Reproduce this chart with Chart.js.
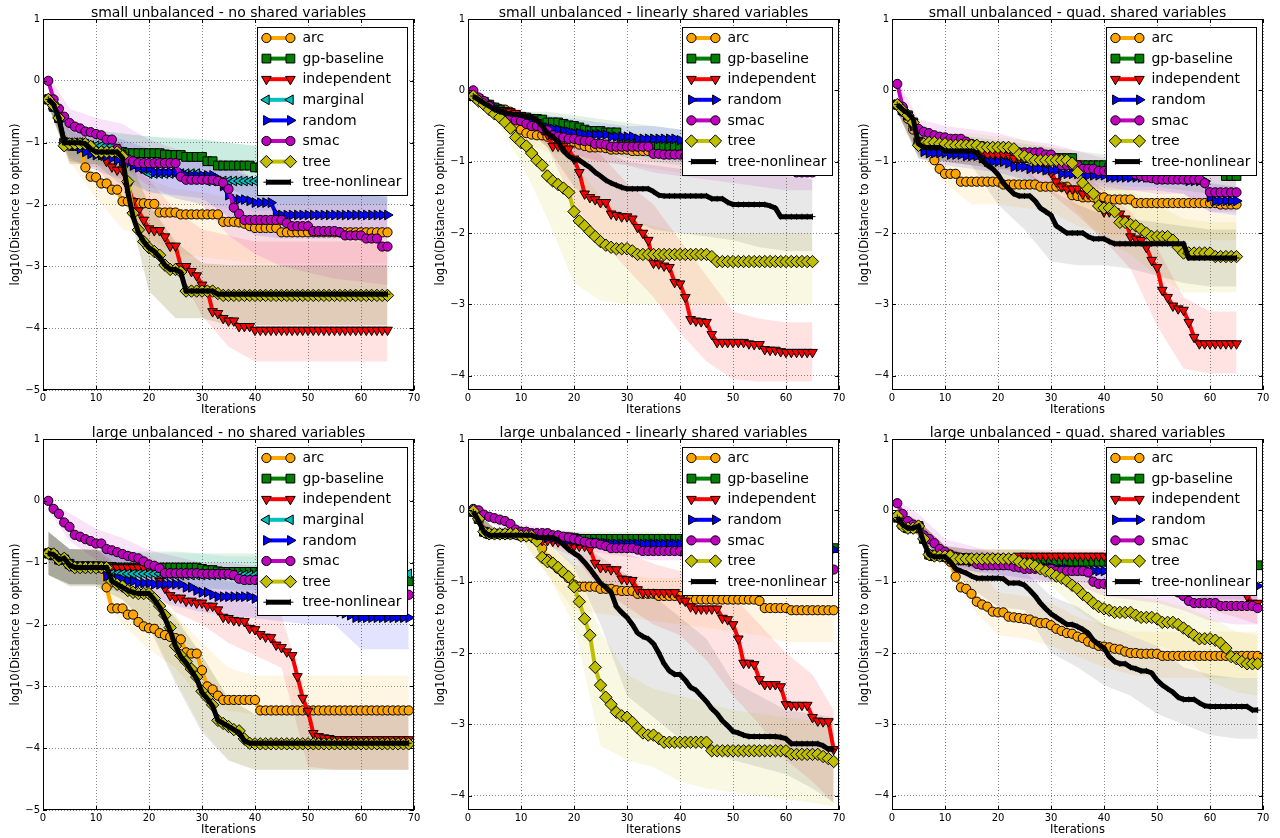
<!DOCTYPE html>
<html><head><meta charset="utf-8">
<script src="https://cdn.jsdelivr.net/npm/chart.js@4/dist/chart.umd.min.js"></script>
<style>
html,body{margin:0;padding:0;background:#fff;width:1280px;height:838px;overflow:hidden}
canvas{position:absolute}
</style></head><body>
<canvas id="c1" width="426" height="419" style="left:0px;top:0px"></canvas>
<canvas id="c2" width="426" height="419" style="left:425px;top:0px"></canvas>
<canvas id="c3" width="426" height="419" style="left:849px;top:0px"></canvas>
<canvas id="c4" width="426" height="419" style="left:0px;top:420px"></canvas>
<canvas id="c5" width="426" height="419" style="left:425px;top:420px"></canvas>
<canvas id="c6" width="426" height="419" style="left:849px;top:420px"></canvas>
<script>
// ---------- tick labels / categories ----------
const xTickVals = [0,10,20,30,40,50,60,70];
const yTicksA = [-5,-4,-3,-2,-1,0,1];
const yTicksB = [-4,-3,-2,-1,0,1];
const itersTop = Array.from({length:65},(_,i)=>i+1);
const itersBot = Array.from({length:69},(_,i)=>i+1);
const knotsTop = [1,5,10,15,20,25,30,35,40,45,50,55,60,65];
const knotsBot = [1,5,10,15,20,25,30,35,40,45,50,55,60,65,69];

// ---------- panel 1: small unbalanced - no shared variables ----------
const p1_arc = [
-0.30,-0.40,-0.60,-1.05,-1.05,-1.05,-1.05,-1.40,-1.55,-1.56,
-1.66,-1.66,-1.76,-1.76,-1.95,-1.95,-1.96,-1.98,-1.98,-1.99,
-1.99,-2.13,-2.13,-2.13,-2.13,-2.16,-2.16,-2.16,-2.16,-2.16,
-2.16,-2.16,-2.16,-2.28,-2.28,-2.28,-2.29,-2.31,-2.35,-2.38,
-2.38,-2.38,-2.38,-2.38,-2.45,-2.45,-2.45,-2.45,-2.45,-2.45,
-2.45,-2.45,-2.45,-2.45,-2.45,-2.45,-2.45,-2.45,-2.45,-2.45,
-2.45,-2.45,-2.45,-2.45,-2.45];
const p1_gp = [
-0.30,-0.42,-0.60,-1.00,-1.02,-1.05,-1.05,-1.08,-1.10,-1.10,
-1.12,-1.12,-1.13,-1.15,-1.15,-1.17,-1.17,-1.17,-1.17,-1.17,
-1.17,-1.17,-1.19,-1.20,-1.20,-1.20,-1.23,-1.23,-1.23,-1.23,
-1.30,-1.30,-1.37,-1.37,-1.37,-1.37,-1.37,-1.37,-1.37,-1.40,
-1.40,-1.40,-1.40,-1.40,-1.40,-1.40,-1.40,-1.40,-1.40,-1.40,
-1.42,-1.42,-1.42,-1.42,-1.42,-1.42,-1.42,-1.42,-1.42,-1.42,
-1.42,-1.42,-1.42,-1.42,-1.42];
const p1_ind = [
-0.30,-0.40,-0.60,-1.00,-1.00,-1.02,-1.05,-1.10,-1.15,-1.15,
-1.20,-1.30,-1.39,-1.44,-1.44,-1.70,-1.95,-2.10,-2.25,-2.39,
-2.42,-2.42,-2.52,-2.67,-2.67,-3.00,-3.00,-3.08,-3.15,-3.30,
-3.38,-3.73,-3.76,-3.84,-3.88,-3.88,-3.97,-3.97,-3.97,-4.03,
-4.03,-4.03,-4.03,-4.03,-4.03,-4.03,-4.03,-4.03,-4.03,-4.03,
-4.03,-4.03,-4.03,-4.03,-4.03,-4.03,-4.03,-4.03,-4.03,-4.03,
-4.03,-4.03,-4.03,-4.03,-4.03];
const p1_mar = [
-0.30,-0.45,-0.60,-1.00,-1.00,-1.00,-1.00,-1.02,-1.05,-1.05,
-1.05,-1.05,-1.05,-1.10,-1.20,-1.30,-1.35,-1.40,-1.45,-1.50,
-1.50,-1.50,-1.50,-1.50,-1.50,-1.50,-1.50,-1.50,-1.50,-1.55,
-1.62,-1.62,-1.62,-1.62,-1.62,-1.62,-1.62,-1.62,-1.62,-1.62,
-1.62,-1.62,-1.62,-1.62,-1.62,-1.62,-1.62,-1.62,-1.62,-1.62,
-1.65,-1.65,-1.65,-1.65,-1.65,-1.65,-1.65,-1.65,-1.65,-1.65,
-1.65,-1.65,-1.65,-1.65,-1.65];
const p1_ran = [
-0.30,-0.42,-0.60,-0.95,-1.00,-1.05,-1.10,-1.15,-1.18,-1.20,
-1.20,-1.22,-1.25,-1.28,-1.30,-1.33,-1.37,-1.40,-1.42,-1.42,
-1.48,-1.48,-1.48,-1.48,-1.48,-1.48,-1.53,-1.53,-1.53,-1.53,
-1.53,-1.53,-1.58,-1.70,-1.85,-1.92,-1.92,-1.92,-1.94,-1.97,
-1.97,-1.97,-1.97,-2.15,-2.17,-2.17,-2.17,-2.17,-2.17,-2.17,
-2.17,-2.17,-2.17,-2.17,-2.17,-2.17,-2.17,-2.17,-2.17,-2.17,
-2.17,-2.17,-2.17,-2.17,-2.17];
const p1_smac = [
0.00,-0.30,-0.45,-0.58,-0.68,-0.74,-0.77,-0.82,-0.83,-0.86,
-0.88,-0.95,-0.95,-1.10,-1.20,-1.27,-1.30,-1.33,-1.33,-1.33,
-1.33,-1.33,-1.33,-1.33,-1.33,-1.55,-1.60,-1.60,-1.60,-1.60,
-1.60,-1.60,-1.62,-1.65,-1.75,-2.05,-2.15,-2.25,-2.25,-2.25,
-2.25,-2.25,-2.25,-2.25,-2.25,-2.30,-2.35,-2.35,-2.35,-2.35,
-2.43,-2.43,-2.43,-2.43,-2.43,-2.45,-2.50,-2.50,-2.50,-2.50,
-2.55,-2.55,-2.55,-2.68,-2.68];
const p1_tree = [
-0.30,-0.40,-0.60,-1.05,-1.02,-1.02,-1.02,-1.02,-1.06,-1.15,
-1.15,-1.15,-1.15,-1.15,-1.22,-1.63,-2.14,-2.41,-2.60,-2.70,
-2.76,-2.82,-2.98,-3.05,-3.05,-3.09,-3.40,-3.40,-3.40,-3.40,
-3.40,-3.40,-3.44,-3.47,-3.47,-3.47,-3.47,-3.47,-3.47,-3.47,
-3.47,-3.47,-3.47,-3.47,-3.47,-3.47,-3.47,-3.47,-3.47,-3.47,
-3.47,-3.47,-3.47,-3.47,-3.47,-3.47,-3.47,-3.47,-3.47,-3.47,
-3.47,-3.47,-3.47,-3.47,-3.47];
const p1_tnl = [
-0.30,-0.38,-0.60,-1.00,-1.00,-1.00,-1.00,-1.02,-1.10,-1.15,
-1.15,-1.15,-1.15,-1.15,-1.25,-1.80,-2.20,-2.45,-2.60,-2.70,
-2.76,-2.85,-2.98,-3.05,-3.05,-3.10,-3.40,-3.40,-3.40,-3.40,
-3.40,-3.40,-3.45,-3.45,-3.45,-3.45,-3.45,-3.45,-3.45,-3.45,
-3.45,-3.45,-3.45,-3.45,-3.45,-3.45,-3.45,-3.45,-3.45,-3.45,
-3.45,-3.45,-3.45,-3.45,-3.45,-3.45,-3.45,-3.45,-3.45,-3.45,
-3.45,-3.45,-3.45,-3.45,-3.45];
// bands (lower / upper) at knotsTop
const p1_arc_lo = [-0.4,-1.3,-1.9,-2.4,-2.55,-2.8,-2.85,-2.9,-2.95,-2.95,-2.95,-2.95,-2.95,-2.95];
const p1_arc_hi = [-0.2,-0.8,-1.0,-1.3,-1.6,-1.75,-1.8,-1.9,-2.0,-2.0,-2.0,-2.0,-2.0,-2.0];
const p1_gp_lo = [-0.4,-1.3,-1.35,-1.45,-1.5,-1.55,-1.6,-1.75,-1.9,-2.0,-2.0,-2.0,-2.0,-2.0];
const p1_gp_hi = [-0.2,-0.75,-0.8,-0.85,-0.9,-0.92,-0.95,-1.0,-1.05,-1.05,-1.05,-1.05,-1.05,-1.05];
const p1_ind_lo = [-0.4,-1.3,-1.4,-1.9,-2.7,-3.0,-3.8,-4.3,-4.54,-4.54,-4.54,-4.54,-4.54,-4.54];
const p1_ind_hi = [-0.2,-0.8,-1.0,-1.2,-1.6,-2.1,-2.4,-2.5,-2.6,-2.6,-2.6,-2.6,-2.6,-2.6];
const p1_mar_lo = [-0.4,-1.2,-1.3,-1.5,-1.8,-1.9,-2.0,-2.05,-2.1,-2.1,-2.1,-2.1,-2.1,-2.1];
const p1_mar_hi = [-0.2,-0.75,-0.8,-0.85,-0.9,-0.95,-0.95,-1.0,-1.05,-1.1,-1.1,-1.1,-1.1,-1.1];
const p1_ran_lo = [-0.4,-1.25,-1.45,-1.6,-1.8,-1.85,-1.9,-2.2,-2.5,-2.55,-2.55,-2.55,-2.55,-2.55];
const p1_ran_hi = [-0.2,-0.75,-0.85,-0.95,-1.1,-1.2,-1.25,-1.4,-1.6,-1.7,-1.7,-1.7,-1.7,-1.7];
const p1_smac_lo = [-0.1,-0.9,-1.05,-1.4,-1.7,-1.9,-2.0,-2.5,-2.8,-3.0,-3.1,-3.2,-3.25,-3.3];
const p1_smac_hi = [0.1,-0.45,-0.6,-0.7,-0.95,-1.1,-1.2,-1.3,-1.6,-1.7,-1.7,-1.8,-1.8,-1.9];
const p1_tree_lo = [-0.4,-1.35,-1.35,-1.6,-3.4,-3.84,-3.84,-3.95,-3.95,-3.95,-3.95,-3.95,-3.95,-3.95];
const p1_tree_hi = [-0.2,-0.95,-0.95,-1.0,-2.0,-2.6,-2.95,-2.98,-2.98,-2.98,-2.98,-2.98,-2.98,-2.98];
const p1_tnl_lo = [-0.4,-1.35,-1.35,-1.7,-3.4,-3.84,-3.84,-3.95,-3.95,-3.95,-3.95,-3.95,-3.95,-3.95];
const p1_tnl_hi = [-0.2,-0.95,-0.95,-1.0,-2.0,-2.6,-2.95,-2.98,-2.98,-2.98,-2.98,-2.98,-2.98,-2.98];

// ---------- panel 2: small unbalanced - linearly shared variables ----------
const p2_arc = [
-0.08,-0.12,-0.16,-0.20,-0.24,-0.26,-0.27,-0.30,-0.50,-0.55,
-0.60,-0.62,-0.63,-0.63,-0.65,-0.67,-0.67,-0.70,-0.72,-0.73,
-0.76,-0.78,-0.80,-0.80,-0.80,-0.81,-0.83,-0.83,-0.83,-0.83,
-0.85,-0.85,-0.85,-0.85,-0.85,-0.85,-0.85,-0.85,-0.85,-0.85,
-0.87,-0.87,-0.87,-0.87,-0.87,-0.87,-0.87,-0.87,-0.87,-0.87,
-0.88,-0.88,-0.88,-0.88,-0.88,-0.88,-0.88,-0.88,-0.88,-0.88,
-0.88,-0.88,-0.88,-0.88,-0.88];
const p2_gp = [
-0.08,-0.12,-0.16,-0.20,-0.24,-0.27,-0.30,-0.32,-0.35,-0.37,
-0.38,-0.40,-0.40,-0.41,-0.45,-0.45,-0.45,-0.47,-0.49,-0.50,
-0.52,-0.55,-0.57,-0.57,-0.57,-0.59,-0.59,-0.59,-0.70,-0.72,
-0.75,-0.75,-0.75,-0.75,-0.75,-0.78,-0.78,-0.78,-0.78,-0.78,
-0.80,-0.80,-0.80,-0.80,-0.80,-0.80,-0.80,-0.80,-0.80,-0.80,
-0.80,-0.80,-0.80,-0.80,-0.80,-0.80,-0.80,-0.80,-0.80,-0.80,
-0.82,-0.82,-0.82,-0.82,-0.82];
const p2_ind = [
-0.08,-0.12,-0.16,-0.20,-0.25,-0.28,-0.30,-0.30,-0.32,-0.35,
-0.38,-0.40,-0.45,-0.55,-0.62,-0.78,-0.78,-0.78,-0.82,-0.96,
-1.15,-1.45,-1.50,-1.53,-1.57,-1.57,-1.73,-1.75,-1.77,-1.77,
-1.80,-1.92,-2.00,-2.10,-2.42,-2.43,-2.46,-2.48,-2.69,-2.71,
-2.90,-3.21,-3.23,-3.24,-3.25,-3.42,-3.53,-3.53,-3.53,-3.53,
-3.53,-3.53,-3.55,-3.56,-3.56,-3.63,-3.64,-3.64,-3.66,-3.67,
-3.67,-3.67,-3.67,-3.67,-3.67];
const p2_ran = [
-0.08,-0.12,-0.16,-0.20,-0.25,-0.30,-0.33,-0.36,-0.38,-0.40,
-0.42,-0.45,-0.48,-0.50,-0.52,-0.54,-0.55,-0.57,-0.58,-0.60,
-0.60,-0.62,-0.62,-0.62,-0.62,-0.62,-0.65,-0.65,-0.65,-0.65,
-0.65,-0.68,-0.68,-0.68,-0.68,-0.68,-0.68,-0.68,-0.68,-0.70,
-0.72,-0.72,-0.72,-0.72,-0.72,-0.72,-0.72,-0.72,-0.72,-0.72,
-0.72,-0.72,-0.72,-0.72,-0.72,-0.72,-0.72,-0.72,-0.72,-0.72,
-0.72,-0.72,-0.72,-0.72,-0.72];
const p2_smac = [
0.00,-0.10,-0.15,-0.22,-0.30,-0.33,-0.36,-0.38,-0.42,-0.43,
-0.47,-0.50,-0.50,-0.53,-0.56,-0.63,-0.65,-0.66,-0.68,-0.68,
-0.70,-0.71,-0.71,-0.75,-0.75,-0.76,-0.79,-0.79,-0.79,-0.79,
-0.79,-0.79,-0.79,-0.79,-0.89,-0.89,-0.90,-0.90,-0.90,-0.90,
-0.92,-0.92,-0.92,-0.95,-0.95,-0.95,-0.98,-0.98,-1.00,-1.00,
-1.02,-1.02,-1.05,-1.05,-1.05,-1.08,-1.08,-1.10,-1.10,-1.12,
-1.12,-1.15,-1.15,-1.15,-1.15];
const p2_tree = [
-0.08,-0.15,-0.20,-0.27,-0.33,-0.38,-0.45,-0.53,-0.66,-0.73,
-0.78,-0.88,-0.98,-1.05,-1.20,-1.27,-1.32,-1.37,-1.43,-1.70,
-1.83,-1.90,-1.98,-2.05,-2.12,-2.17,-2.20,-2.22,-2.22,-2.22,
-2.25,-2.30,-2.30,-2.30,-2.30,-2.30,-2.30,-2.30,-2.30,-2.30,
-2.30,-2.30,-2.30,-2.30,-2.30,-2.33,-2.40,-2.40,-2.40,-2.40,
-2.40,-2.40,-2.40,-2.40,-2.40,-2.40,-2.40,-2.40,-2.40,-2.40,
-2.40,-2.40,-2.40,-2.40,-2.40];
const p2_tnl = [
-0.08,-0.13,-0.18,-0.22,-0.27,-0.30,-0.32,-0.33,-0.34,-0.35,
-0.37,-0.38,-0.42,-0.50,-0.60,-0.65,-0.72,-0.85,-0.92,-0.97,
-0.98,-1.03,-1.08,-1.15,-1.20,-1.26,-1.30,-1.33,-1.36,-1.38,
-1.38,-1.38,-1.38,-1.38,-1.42,-1.47,-1.48,-1.48,-1.48,-1.48,
-1.48,-1.48,-1.48,-1.48,-1.48,-1.52,-1.52,-1.52,-1.57,-1.60,
-1.60,-1.60,-1.60,-1.60,-1.60,-1.60,-1.62,-1.65,-1.77,-1.77,
-1.77,-1.77,-1.77,-1.77,-1.77];
const p2_arc_lo = [-0.12,-0.35,-0.75,-0.85,-0.95,-1.0,-1.05,-1.1,-1.15,-1.15,-1.15,-1.2,-1.2,-1.2];
const p2_arc_hi = [-0.05,-0.2,-0.4,-0.5,-0.55,-0.6,-0.6,-0.6,-0.65,-0.65,-0.65,-0.65,-0.65,-0.65];
const p2_gp_lo = [-0.12,-0.3,-0.5,-0.65,-0.8,-0.85,-0.95,-1.0,-1.05,-1.05,-1.1,-1.1,-1.1,-1.1];
const p2_gp_hi = [-0.05,-0.2,-0.3,-0.3,-0.35,-0.4,-0.45,-0.5,-0.55,-0.55,-0.55,-0.55,-0.6,-0.6];
const p2_ind_lo = [-0.12,-0.35,-0.5,-0.8,-1.6,-2.1,-2.5,-2.9,-3.4,-3.8,-4.05,-4.08,-4.08,-4.08];
const p2_ind_hi = [-0.05,-0.2,-0.3,-0.45,-0.6,-0.9,-1.3,-1.6,-2.1,-2.6,-3.1,-3.2,-3.25,-3.25];
const p2_ran_lo = [-0.12,-0.35,-0.5,-0.7,-0.8,-0.85,-0.9,-0.95,-1.0,-1.0,-1.0,-1.0,-1.0,-1.0];
const p2_ran_hi = [-0.05,-0.2,-0.3,-0.35,-0.4,-0.45,-0.5,-0.5,-0.55,-0.55,-0.55,-0.55,-0.55,-0.55];
const p2_smac_lo = [-0.05,-0.4,-0.55,-0.75,-0.9,-1.0,-1.05,-1.15,-1.2,-1.25,-1.3,-1.35,-1.4,-1.4];
const p2_smac_hi = [0.05,-0.2,-0.3,-0.45,-0.5,-0.55,-0.6,-0.65,-0.7,-0.7,-0.75,-0.8,-0.8,-0.85];
const p2_tree_lo = [-0.12,-0.4,-1.0,-1.8,-2.7,-2.95,-3.0,-3.0,-3.0,-3.0,-3.0,-3.0,-3.0,-3.0];
const p2_tree_hi = [-0.05,-0.25,-0.5,-0.7,-1.0,-1.5,-1.8,-1.9,-2.0,-2.0,-2.0,-2.0,-2.0,-2.0];
const p2_tnl_lo = [-0.12,-0.35,-0.45,-0.8,-1.35,-1.65,-1.8,-1.95,-2.0,-2.05,-2.1,-2.2,-2.25,-2.25];
const p2_tnl_hi = [-0.05,-0.2,-0.3,-0.35,-0.6,-0.8,-1.0,-1.05,-1.1,-1.1,-1.15,-1.2,-1.2,-1.25];

// ---------- panel 3: small unbalanced - quad. shared variables ----------
const p3_arc = [
-0.20,-0.30,-0.40,-0.55,-0.75,-0.80,-0.85,-0.98,-1.10,-1.17,
-1.17,-1.17,-1.28,-1.28,-1.28,-1.28,-1.28,-1.28,-1.28,-1.28,
-1.32,-1.32,-1.32,-1.32,-1.32,-1.32,-1.32,-1.35,-1.35,-1.35,
-1.35,-1.35,-1.35,-1.47,-1.48,-1.50,-1.50,-1.50,-1.50,-1.50,
-1.53,-1.53,-1.53,-1.53,-1.53,-1.58,-1.58,-1.58,-1.58,-1.58,
-1.58,-1.58,-1.58,-1.58,-1.58,-1.58,-1.58,-1.58,-1.58,-1.58,
-1.58,-1.60,-1.60,-1.60,-1.60];
const p3_gp = [
-0.20,-0.28,-0.35,-0.45,-0.72,-0.75,-0.78,-0.80,-0.82,-0.83,
-0.85,-0.85,-0.85,-0.87,-0.88,-0.90,-0.90,-0.90,-0.90,-0.90,
-0.92,-0.95,-0.95,-0.95,-0.95,-0.95,-0.95,-0.95,-0.95,-0.95,
-0.95,-0.95,-0.95,-0.95,-1.05,-1.05,-1.05,-1.05,-1.05,-1.05,
-1.08,-1.08,-1.08,-1.08,-1.08,-1.08,-1.08,-1.08,-1.08,-1.08,
-1.10,-1.10,-1.10,-1.10,-1.10,-1.10,-1.10,-1.10,-1.10,-1.10,
-1.12,-1.12,-1.20,-1.20,-1.20];
const p3_ind = [
-0.20,-0.28,-0.35,-0.45,-0.72,-0.75,-0.78,-0.80,-0.82,-0.83,
-0.85,-0.85,-0.85,-0.87,-0.88,-0.88,-0.90,-0.90,-0.90,-0.90,
-0.90,-0.90,-0.95,-0.95,-0.95,-0.95,-0.95,-0.95,-1.10,-1.15,
-1.28,-1.35,-1.38,-1.38,-1.38,-1.45,-1.45,-1.45,-1.60,-1.70,
-1.70,-1.70,-1.73,-1.80,-2.05,-2.08,-2.10,-2.20,-2.38,-2.48,
-2.80,-2.90,-3.02,-3.06,-3.08,-3.25,-3.46,-3.55,-3.55,-3.55,
-3.55,-3.55,-3.55,-3.55,-3.55];
const p3_ran = [
-0.20,-0.28,-0.35,-0.50,-0.75,-0.86,-0.88,-0.88,-0.88,-0.88,
-0.90,-0.90,-0.90,-0.92,-0.92,-0.92,-0.95,-1.00,-1.00,-1.00,
-1.00,-1.02,-1.07,-1.07,-1.07,-1.10,-1.10,-1.10,-1.12,-1.12,
-1.12,-1.17,-1.17,-1.17,-1.17,-1.19,-1.19,-1.19,-1.19,-1.19,
-1.22,-1.22,-1.22,-1.22,-1.22,-1.22,-1.22,-1.22,-1.22,-1.22,
-1.22,-1.22,-1.22,-1.22,-1.22,-1.27,-1.27,-1.27,-1.27,-1.50,
-1.55,-1.55,-1.55,-1.55,-1.55];
const p3_smac = [
0.09,-0.23,-0.35,-0.45,-0.54,-0.58,-0.60,-0.63,-0.65,-0.66,
-0.68,-0.68,-0.68,-0.72,-0.75,-0.78,-0.78,-0.80,-0.80,-0.80,
-0.80,-0.82,-0.85,-0.87,-0.87,-0.87,-0.87,-0.87,-0.90,-0.90,
-0.95,-1.05,-1.05,-1.05,-1.05,-1.10,-1.10,-1.10,-1.13,-1.13,
-1.13,-1.13,-1.13,-1.13,-1.13,-1.18,-1.20,-1.22,-1.23,-1.25,
-1.25,-1.25,-1.25,-1.25,-1.25,-1.25,-1.25,-1.25,-1.30,-1.43,
-1.43,-1.43,-1.43,-1.43,-1.43];
const p3_tree = [
-0.20,-0.28,-0.35,-0.45,-0.77,-0.75,-0.73,-0.73,-0.75,-0.75,
-0.77,-0.77,-0.77,-0.77,-0.77,-0.77,-0.80,-0.80,-0.80,-0.80,
-0.80,-0.80,-0.82,-0.90,-0.92,-0.95,-0.98,-0.98,-0.98,-0.98,
-0.98,-0.98,-0.98,-1.02,-1.15,-1.30,-1.38,-1.45,-1.62,-1.65,
-1.65,-1.70,-1.85,-1.85,-1.88,-1.90,-1.95,-2.00,-2.05,-2.05,
-2.05,-2.05,-2.10,-2.20,-2.28,-2.28,-2.28,-2.28,-2.28,-2.28,
-2.33,-2.33,-2.33,-2.33,-2.33];
const p3_tnl = [
-0.20,-0.27,-0.32,-0.40,-0.75,-0.80,-0.80,-0.80,-0.80,-0.85,
-0.85,-0.85,-0.85,-0.85,-0.85,-0.88,-0.98,-1.05,-1.10,-1.18,
-1.30,-1.38,-1.45,-1.48,-1.48,-1.48,-1.55,-1.65,-1.70,-1.75,
-1.90,-1.95,-2.00,-2.00,-2.00,-2.00,-2.05,-2.08,-2.08,-2.08,
-2.12,-2.15,-2.15,-2.15,-2.15,-2.15,-2.15,-2.15,-2.15,-2.15,
-2.15,-2.15,-2.15,-2.15,-2.15,-2.35,-2.35,-2.35,-2.35,-2.35,
-2.35,-2.35,-2.35,-2.35,-2.35];
const p3_arc_lo = [-0.3,-0.9,-1.3,-1.6,-1.6,-1.65,-1.7,-1.9,-2.0,-2.05,-2.1,-2.1,-2.1,-2.1];
const p3_arc_hi = [-0.1,-0.6,-0.95,-1.0,-1.05,-1.1,-1.15,-1.2,-1.3,-1.35,-1.35,-1.35,-1.35,-1.35];
const p3_gp_lo = [-0.3,-0.9,-1.0,-1.05,-1.1,-1.1,-1.15,-1.25,-1.3,-1.35,-1.35,-1.4,-1.45,-1.45];
const p3_gp_hi = [-0.1,-0.55,-0.6,-0.65,-0.7,-0.75,-0.8,-0.85,-0.9,-0.9,-0.95,-0.95,-0.95,-1.0];
const p3_ind_lo = [-0.3,-0.9,-1.0,-1.05,-1.1,-1.15,-1.45,-1.75,-2.1,-2.5,-3.3,-3.9,-3.97,-3.97];
const p3_ind_hi = [-0.1,-0.55,-0.65,-0.7,-0.75,-0.8,-0.95,-1.1,-1.4,-1.7,-2.2,-2.9,-3.1,-3.1];
const p3_ran_lo = [-0.3,-0.95,-1.05,-1.1,-1.15,-1.25,-1.3,-1.35,-1.4,-1.4,-1.4,-1.45,-1.7,-1.75];
const p3_ran_hi = [-0.1,-0.6,-0.7,-0.75,-0.85,-0.9,-0.95,-1.0,-1.05,-1.05,-1.05,-1.1,-1.3,-1.35];
const p3_smac_lo = [0.0,-0.7,-0.85,-0.9,-1.0,-1.05,-1.1,-1.3,-1.35,-1.4,-1.45,-1.45,-1.7,-1.7];
const p3_smac_hi = [0.15,-0.4,-0.5,-0.55,-0.6,-0.7,-0.75,-0.85,-0.95,-0.95,-1.0,-1.05,-1.2,-1.2];
const p3_tree_lo = [-0.3,-0.95,-0.95,-1.0,-1.05,-1.1,-1.25,-1.7,-2.1,-2.3,-2.6,-2.83,-2.83,-2.83];
const p3_tree_hi = [-0.1,-0.55,-0.6,-0.6,-0.65,-0.7,-0.8,-0.9,-1.2,-1.4,-1.6,-1.8,-1.85,-1.85];
const p3_tnl_lo = [-0.3,-0.95,-1.0,-1.05,-1.6,-1.95,-2.4,-2.45,-2.45,-2.5,-2.6,-2.7,-2.75,-2.75];
const p3_tnl_hi = [-0.1,-0.6,-0.7,-0.7,-0.9,-1.1,-1.4,-1.6,-1.75,-1.8,-1.85,-1.9,-1.95,-1.95];

// ---------- panel 4: large unbalanced - no shared variables ----------
const p4_arc = [
-0.85,-0.86,-0.95,-0.93,-1.04,-1.08,-1.08,-1.08,-1.08,-1.08,
-1.08,-1.40,-1.74,-1.74,-1.74,-1.84,-1.84,-1.96,-2.03,-2.06,
-2.07,-2.14,-2.17,-2.20,-2.22,-2.24,-2.45,-2.47,-2.47,-2.74,
-3.00,-3.05,-3.15,-3.22,-3.22,-3.22,-3.22,-3.22,-3.22,-3.22,
-3.39,-3.39,-3.39,-3.39,-3.39,-3.39,-3.39,-3.39,-3.39,-3.39,
-3.39,-3.39,-3.39,-3.39,-3.39,-3.39,-3.39,-3.39,-3.39,-3.39,
-3.39,-3.39,-3.39,-3.39,-3.39,-3.39,-3.39,-3.39,-3.39];
const p4_gp = [
-0.85,-0.88,-0.95,-0.95,-1.02,-1.06,-1.06,-1.06,-1.06,-1.06,
-1.06,-1.07,-1.07,-1.08,-1.08,-1.08,-1.08,-1.08,-1.08,-1.08,
-1.08,-1.08,-1.08,-1.08,-1.08,-1.08,-1.08,-1.08,-1.08,-1.10,
-1.12,-1.12,-1.14,-1.15,-1.15,-1.15,-1.15,-1.15,-1.15,-1.15,
-1.17,-1.17,-1.17,-1.17,-1.17,-1.17,-1.17,-1.17,-1.17,-1.17,
-1.20,-1.20,-1.20,-1.20,-1.20,-1.20,-1.20,-1.20,-1.20,-1.20,
-1.22,-1.22,-1.25,-1.25,-1.25,-1.28,-1.30,-1.30,-1.30];
const p4_ind = [
-0.85,-0.88,-0.95,-0.95,-1.02,-1.06,-1.06,-1.06,-1.06,-1.06,
-1.06,-1.07,-1.07,-1.08,-1.08,-1.08,-1.08,-1.08,-1.08,-1.10,
-1.14,-1.30,-1.41,-1.53,-1.57,-1.57,-1.62,-1.62,-1.65,-1.65,
-1.70,-1.70,-1.76,-1.88,-1.90,-1.93,-1.94,-1.95,-2.06,-2.08,
-2.16,-2.20,-2.21,-2.33,-2.37,-2.44,-2.50,-2.84,-3.19,-3.40,
-3.76,-3.81,-3.83,-3.84,-3.86,-3.86,-3.86,-3.86,-3.86,-3.86,
-3.86,-3.86,-3.86,-3.86,-3.86,-3.86,-3.86,-3.86,-3.86];
const p4_mar = [
-0.85,-0.88,-0.95,-0.95,-1.02,-1.06,-1.06,-1.06,-1.06,-1.06,
-1.08,-1.15,-1.18,-1.18,-1.18,-1.18,-1.18,-1.18,-1.18,-1.18,
-1.18,-1.18,-1.20,-1.20,-1.20,-1.20,-1.20,-1.20,-1.20,-1.20,
-1.20,-1.20,-1.20,-1.20,-1.20,-1.20,-1.20,-1.20,-1.20,-1.20,
-1.20,-1.20,-1.20,-1.20,-1.20,-1.20,-1.20,-1.20,-1.20,-1.20,
-1.20,-1.20,-1.20,-1.20,-1.20,-1.20,-1.20,-1.20,-1.20,-1.20,
-1.20,-1.20,-1.20,-1.20,-1.20,-1.20,-1.20,-1.18,-1.18];
const p4_ran = [
-0.85,-0.88,-0.95,-0.95,-1.02,-1.06,-1.06,-1.06,-1.06,-1.06,
-1.08,-1.22,-1.25,-1.25,-1.27,-1.30,-1.30,-1.33,-1.33,-1.33,
-1.35,-1.35,-1.35,-1.35,-1.35,-1.35,-1.40,-1.40,-1.45,-1.48,
-1.48,-1.52,-1.55,-1.55,-1.55,-1.55,-1.55,-1.55,-1.55,-1.58,
-1.62,-1.62,-1.62,-1.65,-1.65,-1.65,-1.68,-1.68,-1.70,-1.70,
-1.72,-1.72,-1.75,-1.75,-1.78,-1.80,-1.82,-1.85,-1.89,-1.89,
-1.89,-1.89,-1.89,-1.89,-1.89,-1.89,-1.89,-1.89,-1.89];
const p4_smac = [
0.00,-0.13,-0.21,-0.35,-0.42,-0.55,-0.58,-0.62,-0.65,-0.69,
-0.69,-0.78,-0.80,-0.83,-0.86,-0.89,-0.91,-0.93,-0.98,-1.03,
-1.05,-1.09,-1.17,-1.17,-1.17,-1.17,-1.17,-1.17,-1.17,-1.18,
-1.18,-1.18,-1.18,-1.18,-1.18,-1.20,-1.26,-1.28,-1.28,-1.28,
-1.30,-1.30,-1.32,-1.32,-1.32,-1.35,-1.35,-1.35,-1.37,-1.37,
-1.38,-1.38,-1.40,-1.40,-1.42,-1.42,-1.44,-1.44,-1.45,-1.45,
-1.46,-1.46,-1.47,-1.48,-1.48,-1.50,-1.50,-1.52,-1.52];
const p4_tree = [
-0.85,-0.86,-0.95,-0.93,-1.04,-1.08,-1.08,-1.08,-1.08,-1.08,
-1.08,-1.08,-1.30,-1.35,-1.38,-1.45,-1.48,-1.50,-1.50,-1.50,
-1.58,-1.70,-1.85,-2.05,-2.35,-2.50,-2.60,-2.72,-2.85,-3.08,
-3.18,-3.30,-3.55,-3.60,-3.65,-3.70,-3.72,-3.85,-3.92,-3.93,
-3.93,-3.93,-3.93,-3.93,-3.93,-3.93,-3.93,-3.93,-3.93,-3.93,
-3.93,-3.93,-3.93,-3.93,-3.93,-3.93,-3.93,-3.93,-3.93,-3.93,
-3.93,-3.93,-3.93,-3.93,-3.93,-3.93,-3.93,-3.93,-3.93];
const p4_tnl = [
-0.85,-0.87,-0.95,-0.93,-1.04,-1.08,-1.08,-1.08,-1.08,-1.08,
-1.08,-1.08,-1.30,-1.35,-1.40,-1.45,-1.48,-1.50,-1.50,-1.50,
-1.60,-1.72,-1.90,-2.10,-2.35,-2.52,-2.62,-2.75,-2.88,-3.10,
-3.20,-3.32,-3.55,-3.60,-3.65,-3.70,-3.75,-3.88,-3.92,-3.92,
-3.92,-3.92,-3.92,-3.92,-3.92,-3.92,-3.92,-3.92,-3.92,-3.92,
-3.92,-3.92,-3.92,-3.92,-3.92,-3.92,-3.92,-3.92,-3.92,-3.92,
-3.92,-3.92,-3.92,-3.92,-3.92,-3.92,-3.92,-3.92,-3.92];
const p4_arc_lo = [-1.2,-1.35,-1.35,-2.0,-2.4,-2.7,-3.2,-3.4,-3.45,-3.45,-3.45,-3.45,-3.45,-3.45,-3.45];
const p4_arc_hi = [-0.5,-0.8,-0.8,-1.2,-1.65,-1.85,-2.3,-2.7,-2.83,-2.83,-2.83,-2.83,-2.83,-2.83,-2.83];
const p4_gp_lo = [-1.2,-1.35,-1.35,-1.35,-1.38,-1.4,-1.4,-1.45,-1.5,-1.5,-1.55,-1.55,-1.6,-1.65,-1.65];
const p4_gp_hi = [-0.5,-0.78,-0.8,-0.82,-0.82,-0.82,-0.85,-0.85,-0.85,-0.85,-0.85,-0.85,-0.85,-0.85,-0.85];
const p4_ind_lo = [-1.2,-1.35,-1.35,-1.35,-1.4,-1.8,-2.0,-2.3,-2.5,-2.7,-4.3,-4.35,-4.35,-4.35,-4.35];
const p4_ind_hi = [-0.5,-0.78,-0.8,-0.82,-0.9,-1.2,-1.4,-1.5,-1.7,-1.85,-3.3,-3.45,-3.45,-3.45,-3.45];
const p4_mar_lo = [-1.2,-1.35,-1.35,-1.35,-1.38,-1.4,-1.42,-1.42,-1.45,-1.45,-1.45,-1.45,-1.45,-1.45,-1.45];
const p4_mar_hi = [-0.5,-0.78,-0.8,-0.82,-0.85,-0.85,-0.85,-0.9,-0.9,-0.9,-0.9,-0.9,-0.9,-0.9,-0.9];
const p4_ran_lo = [-1.2,-1.35,-1.35,-1.5,-1.6,-1.7,-1.8,-1.85,-1.9,-1.95,-2.0,-2.0,-2.4,-2.4,-2.4];
const p4_ran_hi = [-0.5,-0.78,-0.8,-0.9,-1.0,-1.1,-1.2,-1.3,-1.35,-1.4,-1.45,-1.5,-1.55,-1.55,-1.55];
const p4_smac_lo = [-0.15,-0.65,-0.95,-1.1,-1.3,-1.45,-1.5,-1.55,-1.6,-1.7,-1.75,-1.8,-1.85,-1.85,-1.85];
const p4_smac_hi = [0.0,-0.2,-0.45,-0.6,-0.8,-0.9,-1.0,-1.0,-1.05,-1.1,-1.1,-1.15,-1.15,-1.2,-1.2];
const p4_tree_lo = [-1.2,-1.38,-1.38,-1.6,-2.0,-2.9,-3.7,-4.2,-4.35,-4.35,-4.35,-4.35,-4.35,-4.35,-4.35];
const p4_tree_hi = [-0.5,-0.78,-0.78,-1.1,-1.4,-1.85,-2.5,-3.2,-3.45,-3.45,-3.45,-3.45,-3.45,-3.45,-3.45];
const p4_tnl_lo = [-1.2,-1.38,-1.38,-1.6,-2.05,-2.95,-3.75,-4.2,-4.35,-4.35,-4.35,-4.35,-4.35,-4.35,-4.35];
const p4_tnl_hi = [-0.5,-0.78,-0.78,-1.1,-1.4,-1.9,-2.5,-3.2,-3.45,-3.45,-3.45,-3.45,-3.45,-3.45,-3.45];

// ---------- panel 5: large unbalanced - linearly shared variables ----------
const p5_arc = [
-0.02,-0.12,-0.30,-0.33,-0.33,-0.33,-0.33,-0.33,-0.33,-0.36,
-0.36,-0.36,-0.40,-0.53,-0.68,-0.75,-0.82,-0.88,-0.95,-1.04,
-1.07,-1.07,-1.07,-1.07,-1.10,-1.10,-1.10,-1.12,-1.13,-1.13,
-1.13,-1.17,-1.17,-1.17,-1.17,-1.20,-1.20,-1.20,-1.20,-1.20,
-1.25,-1.25,-1.25,-1.25,-1.25,-1.25,-1.25,-1.25,-1.25,-1.25,
-1.25,-1.25,-1.25,-1.25,-1.27,-1.37,-1.37,-1.37,-1.37,-1.37,
-1.40,-1.40,-1.40,-1.40,-1.40,-1.40,-1.40,-1.40,-1.40];
const p5_gp = [
-0.02,-0.12,-0.30,-0.33,-0.33,-0.33,-0.33,-0.33,-0.33,-0.35,
-0.35,-0.35,-0.35,-0.36,-0.36,-0.37,-0.37,-0.38,-0.38,-0.39,
-0.40,-0.40,-0.40,-0.40,-0.40,-0.40,-0.40,-0.40,-0.40,-0.40,
-0.40,-0.40,-0.40,-0.40,-0.40,-0.40,-0.40,-0.40,-0.40,-0.40,
-0.42,-0.42,-0.42,-0.42,-0.42,-0.42,-0.42,-0.42,-0.42,-0.42,
-0.45,-0.45,-0.45,-0.45,-0.45,-0.45,-0.45,-0.45,-0.45,-0.45,
-0.48,-0.48,-0.50,-0.50,-0.50,-0.52,-0.53,-0.53,-0.53];
const p5_ind = [
-0.02,-0.12,-0.30,-0.33,-0.33,-0.33,-0.33,-0.33,-0.33,-0.35,
-0.36,-0.38,-0.40,-0.42,-0.42,-0.43,-0.44,-0.44,-0.50,-0.50,
-0.50,-0.50,-0.54,-0.74,-0.80,-0.80,-0.83,-0.83,-0.96,-0.97,
-0.98,-1.11,-1.15,-1.15,-1.15,-1.15,-1.15,-1.15,-1.15,-1.24,
-1.27,-1.35,-1.38,-1.38,-1.38,-1.38,-1.38,-1.51,-1.53,-1.60,
-1.80,-2.14,-2.14,-2.16,-2.37,-2.44,-2.44,-2.44,-2.47,-2.72,
-2.73,-2.73,-2.73,-2.73,-2.90,-2.95,-2.96,-2.96,-3.35];
const p5_ran = [
-0.02,-0.12,-0.30,-0.33,-0.33,-0.33,-0.33,-0.33,-0.33,-0.35,
-0.35,-0.35,-0.36,-0.37,-0.38,-0.39,-0.40,-0.41,-0.42,-0.43,
-0.44,-0.45,-0.45,-0.45,-0.46,-0.46,-0.47,-0.47,-0.47,-0.47,
-0.47,-0.47,-0.47,-0.47,-0.47,-0.47,-0.47,-0.47,-0.47,-0.47,
-0.48,-0.48,-0.48,-0.48,-0.48,-0.48,-0.48,-0.48,-0.48,-0.48,
-0.50,-0.50,-0.50,-0.50,-0.50,-0.50,-0.50,-0.50,-0.50,-0.50,
-0.52,-0.52,-0.53,-0.53,-0.54,-0.54,-0.55,-0.55,-0.55];
const p5_smac = [
0.02,0.00,-0.06,-0.09,-0.11,-0.13,-0.15,-0.19,-0.27,-0.30,
-0.30,-0.32,-0.32,-0.32,-0.32,-0.35,-0.35,-0.37,-0.38,-0.40,
-0.42,-0.44,-0.46,-0.46,-0.48,-0.50,-0.53,-0.53,-0.53,-0.53,
-0.53,-0.55,-0.57,-0.57,-0.57,-0.57,-0.57,-0.57,-0.57,-0.57,
-0.60,-0.60,-0.62,-0.62,-0.64,-0.64,-0.66,-0.66,-0.68,-0.68,
-0.70,-0.70,-0.72,-0.72,-0.74,-0.74,-0.76,-0.76,-0.78,-0.78,
-0.79,-0.79,-0.80,-0.80,-0.81,-0.81,-0.82,-0.83,-0.83];
const p5_tree = [
-0.01,-0.12,-0.30,-0.33,-0.33,-0.33,-0.33,-0.33,-0.33,-0.36,
-0.36,-0.36,-0.43,-0.66,-0.72,-0.74,-0.80,-0.87,-0.93,-1.07,
-1.28,-1.52,-1.75,-2.20,-2.45,-2.62,-2.72,-2.83,-2.88,-2.90,
-2.97,-3.05,-3.12,-3.15,-3.15,-3.20,-3.25,-3.25,-3.25,-3.25,
-3.25,-3.25,-3.25,-3.25,-3.25,-3.37,-3.37,-3.37,-3.37,-3.37,
-3.37,-3.37,-3.37,-3.37,-3.37,-3.37,-3.37,-3.37,-3.37,-3.37,
-3.42,-3.42,-3.42,-3.42,-3.42,-3.42,-3.45,-3.48,-3.52];
const p5_tnl = [
-0.02,-0.15,-0.30,-0.35,-0.35,-0.35,-0.35,-0.35,-0.35,-0.35,
-0.35,-0.35,-0.38,-0.38,-0.38,-0.38,-0.42,-0.48,-0.55,-0.60,
-0.65,-0.73,-0.82,-0.92,-1.02,-1.08,-1.15,-1.35,-1.43,-1.50,
-1.60,-1.72,-1.77,-1.80,-1.87,-2.00,-2.15,-2.25,-2.30,-2.30,
-2.38,-2.48,-2.52,-2.60,-2.68,-2.78,-2.85,-2.95,-3.02,-3.10,
-3.12,-3.15,-3.17,-3.17,-3.17,-3.17,-3.17,-3.17,-3.18,-3.20,
-3.27,-3.27,-3.27,-3.27,-3.27,-3.27,-3.30,-3.35,-3.35];
const p5_arc_lo = [-0.05,-0.4,-0.4,-0.9,-1.4,-1.45,-1.5,-1.55,-1.6,-1.65,-1.7,-1.75,-1.85,-1.85,-1.85];
const p5_arc_hi = [0.0,-0.25,-0.3,-0.45,-0.75,-0.85,-0.9,-0.95,-0.95,-1.0,-1.0,-1.0,-1.0,-1.0,-1.0];
const p5_gp_lo = [-0.05,-0.4,-0.4,-0.45,-0.5,-0.5,-0.52,-0.55,-0.55,-0.58,-0.6,-0.62,-0.65,-0.68,-0.7];
const p5_gp_hi = [0.0,-0.25,-0.25,-0.28,-0.3,-0.3,-0.3,-0.3,-0.32,-0.32,-0.35,-0.35,-0.38,-0.4,-0.4];
const p5_ind_lo = [-0.05,-0.4,-0.4,-0.5,-0.65,-1.1,-1.35,-1.6,-1.75,-2.1,-2.6,-3.0,-3.5,-3.8,-4.1];
const p5_ind_hi = [0.0,-0.25,-0.28,-0.3,-0.35,-0.45,-0.6,-0.75,-0.85,-0.95,-1.2,-1.6,-2.0,-2.3,-2.8];
const p5_ran_lo = [-0.05,-0.4,-0.42,-0.45,-0.5,-0.55,-0.58,-0.6,-0.62,-0.62,-0.65,-0.65,-0.68,-0.7,-0.7];
const p5_ran_hi = [0.0,-0.25,-0.25,-0.3,-0.32,-0.35,-0.38,-0.38,-0.4,-0.4,-0.42,-0.42,-0.45,-0.45,-0.45];
const p5_smac_lo = [-0.02,-0.2,-0.4,-0.45,-0.5,-0.6,-0.65,-0.7,-0.7,-0.75,-0.8,-0.9,-1.0,-1.05,-1.1];
const p5_smac_hi = [0.05,-0.05,-0.2,-0.25,-0.3,-0.35,-0.4,-0.42,-0.45,-0.48,-0.5,-0.55,-0.58,-0.6,-0.6];
const p5_tree_lo = [-0.05,-0.4,-0.4,-0.9,-1.6,-3.3,-3.5,-3.6,-3.8,-3.9,-3.95,-4.0,-4.05,-4.1,-4.15];
const p5_tree_hi = [0.0,-0.25,-0.3,-0.5,-0.8,-1.7,-2.3,-2.5,-2.6,-2.7,-2.8,-2.85,-2.9,-2.95,-3.0];
const p5_tnl_lo = [-0.05,-0.4,-0.42,-0.45,-0.8,-1.6,-2.6,-2.9,-3.2,-3.35,-3.5,-3.6,-3.7,-3.9,-4.1];
const p5_tnl_hi = [0.0,-0.25,-0.3,-0.32,-0.4,-0.65,-0.9,-1.2,-1.5,-1.8,-2.4,-2.6,-2.8,-2.85,-2.9];

// ---------- panel 6: large unbalanced - quad. shared variables ----------
const p6_arc = [
-0.10,-0.20,-0.25,-0.25,-0.22,-0.40,-0.62,-0.64,-0.64,-0.65,
-0.72,-0.93,-1.08,-1.10,-1.17,-1.28,-1.32,-1.35,-1.42,-1.43,
-1.43,-1.49,-1.50,-1.51,-1.52,-1.53,-1.56,-1.58,-1.58,-1.61,
-1.66,-1.69,-1.72,-1.73,-1.77,-1.79,-1.84,-1.87,-1.90,-1.91,
-1.92,-1.94,-1.95,-1.98,-2.00,-2.00,-2.01,-2.01,-2.01,-2.01,
-2.04,-2.04,-2.04,-2.04,-2.04,-2.04,-2.04,-2.04,-2.04,-2.04,
-2.04,-2.04,-2.04,-2.04,-2.04,-2.04,-2.04,-2.04,-2.04];
const p6_gp = [
-0.10,-0.20,-0.25,-0.25,-0.22,-0.40,-0.62,-0.64,-0.64,-0.65,
-0.66,-0.66,-0.67,-0.67,-0.68,-0.68,-0.68,-0.68,-0.68,-0.68,
-0.70,-0.70,-0.70,-0.70,-0.70,-0.72,-0.72,-0.72,-0.72,-0.72,
-0.72,-0.72,-0.72,-0.72,-0.72,-0.72,-0.72,-0.72,-0.72,-0.72,
-0.72,-0.72,-0.72,-0.72,-0.72,-0.74,-0.74,-0.74,-0.74,-0.74,
-0.74,-0.74,-0.74,-0.74,-0.74,-0.75,-0.75,-0.75,-0.75,-0.75,
-0.75,-0.75,-0.76,-0.76,-0.76,-0.77,-0.77,-0.77,-0.77];
const p6_ind = [
-0.10,-0.20,-0.25,-0.25,-0.22,-0.40,-0.62,-0.64,-0.64,-0.65,
-0.66,-0.66,-0.66,-0.66,-0.66,-0.66,-0.66,-0.66,-0.66,-0.66,
-0.66,-0.66,-0.66,-0.64,-0.64,-0.64,-0.64,-0.64,-0.64,-0.64,
-0.64,-0.64,-0.64,-0.64,-0.64,-0.64,-0.64,-0.64,-0.64,-0.64,
-0.66,-0.66,-0.66,-0.66,-0.66,-0.66,-0.66,-0.66,-0.66,-0.66,
-0.68,-0.68,-0.68,-0.68,-0.68,-0.68,-0.68,-0.68,-0.68,-0.68,
-0.70,-0.70,-0.72,-0.75,-0.80,-0.95,-1.20,-1.30,-1.30];
const p6_ran = [
-0.10,-0.20,-0.25,-0.25,-0.22,-0.40,-0.62,-0.64,-0.64,-0.65,
-0.68,-0.70,-0.70,-0.70,-0.72,-0.72,-0.72,-0.74,-0.74,-0.74,
-0.76,-0.76,-0.78,-0.78,-0.78,-0.78,-0.78,-0.80,-0.80,-0.80,
-0.82,-0.82,-0.82,-0.84,-0.84,-0.84,-0.85,-0.85,-0.85,-0.85,
-0.87,-0.87,-0.88,-0.88,-0.90,-0.90,-0.92,-0.92,-0.93,-0.93,
-0.95,-0.95,-0.96,-0.97,-0.98,-0.98,-1.00,-1.00,-1.01,-1.01,
-1.02,-1.02,-1.03,-1.03,-1.04,-1.04,-1.05,-1.06,-1.06];
const p6_smac = [
0.10,-0.05,-0.15,-0.20,-0.25,-0.35,-0.40,-0.46,-0.54,-0.58,
-0.62,-0.65,-0.70,-0.70,-0.70,-0.75,-0.77,-0.77,-0.77,-0.77,
-0.77,-0.77,-0.79,-0.80,-0.82,-0.82,-0.82,-0.82,-0.82,-0.82,
-0.85,-0.85,-0.85,-0.85,-0.85,-0.85,-0.87,-1.00,-1.03,-1.03,
-1.03,-1.03,-1.05,-1.05,-1.05,-1.05,-1.05,-1.05,-1.08,-1.08,
-1.08,-1.08,-1.08,-1.15,-1.20,-1.27,-1.30,-1.30,-1.30,-1.30,
-1.30,-1.34,-1.34,-1.34,-1.34,-1.34,-1.34,-1.34,-1.37];
const p6_tree = [
-0.08,-0.22,-0.25,-0.25,-0.22,-0.40,-0.62,-0.64,-0.64,-0.64,
-0.64,-0.68,-0.68,-0.68,-0.68,-0.68,-0.68,-0.68,-0.68,-0.68,
-0.68,-0.68,-0.68,-0.72,-0.75,-0.75,-0.78,-0.82,-0.85,-0.88,
-0.92,-0.95,-0.99,-1.05,-1.10,-1.18,-1.23,-1.30,-1.35,-1.38,
-1.40,-1.43,-1.43,-1.43,-1.43,-1.47,-1.50,-1.50,-1.50,-1.52,
-1.57,-1.57,-1.57,-1.60,-1.65,-1.70,-1.75,-1.80,-1.80,-1.80,
-1.82,-1.86,-1.93,-2.05,-2.08,-2.12,-2.15,-2.15,-2.15];
const p6_tnl = [
-0.10,-0.20,-0.25,-0.25,-0.22,-0.45,-0.62,-0.65,-0.65,-0.65,
-0.72,-0.82,-0.85,-0.88,-0.92,-0.95,-0.95,-0.95,-0.95,-0.95,
-0.96,-1.02,-1.02,-1.02,-1.05,-1.12,-1.20,-1.30,-1.38,-1.45,
-1.50,-1.55,-1.60,-1.60,-1.63,-1.67,-1.72,-1.82,-1.88,-1.93,
-2.05,-2.12,-2.15,-2.15,-2.20,-2.22,-2.25,-2.25,-2.28,-2.38,
-2.45,-2.50,-2.55,-2.62,-2.65,-2.65,-2.65,-2.70,-2.74,-2.75,
-2.75,-2.75,-2.75,-2.75,-2.75,-2.75,-2.75,-2.80,-2.80];
const p6_arc_lo = [-0.2,-0.35,-0.75,-1.35,-1.75,-1.8,-1.9,-2.05,-2.2,-2.3,-2.35,-2.35,-2.35,-2.35,-2.35];
const p6_arc_hi = [0.0,-0.15,-0.5,-0.7,-1.15,-1.2,-1.3,-1.5,-1.6,-1.7,-1.7,-1.7,-1.7,-1.7,-1.7];
const p6_gp_lo = [-0.2,-0.35,-0.75,-0.8,-0.82,-0.85,-0.88,-0.9,-0.9,-0.92,-0.92,-0.95,-0.95,-0.95,-0.95];
const p6_gp_hi = [0.0,-0.15,-0.5,-0.55,-0.55,-0.55,-0.58,-0.6,-0.6,-0.6,-0.62,-0.62,-0.62,-0.62,-0.62];
const p6_ind_lo = [-0.2,-0.35,-0.75,-0.8,-0.8,-0.75,-0.75,-0.78,-0.8,-0.85,-0.85,-0.9,-1.4,-1.5,-1.6];
const p6_ind_hi = [0.0,-0.15,-0.5,-0.55,-0.55,-0.55,-0.55,-0.55,-0.55,-0.58,-0.6,-0.6,-0.65,-0.9,-1.05];
const p6_ran_lo = [-0.2,-0.35,-0.75,-0.85,-0.9,-0.95,-1.0,-1.0,-1.05,-1.1,-1.15,-1.2,-1.25,-1.25,-1.28];
const p6_ran_hi = [0.0,-0.15,-0.5,-0.55,-0.6,-0.65,-0.65,-0.7,-0.7,-0.72,-0.75,-0.8,-0.85,-0.85,-0.88];
const p6_smac_lo = [0.0,-0.35,-0.75,-0.85,-0.95,-1.0,-1.0,-1.05,-1.2,-1.25,-1.3,-1.4,-1.55,-1.6,-1.6];
const p6_smac_hi = [0.15,-0.05,-0.4,-0.5,-0.6,-0.65,-0.7,-0.72,-0.8,-0.85,-0.9,-0.95,-1.05,-1.1,-1.1];
const p6_tree_lo = [-0.2,-0.35,-0.75,-0.8,-0.8,-0.85,-1.05,-1.4,-1.65,-1.75,-1.9,-2.0,-2.4,-2.55,-2.6];
const p6_tree_hi = [0.0,-0.15,-0.5,-0.55,-0.55,-0.55,-0.65,-0.85,-1.1,-1.2,-1.25,-1.35,-1.5,-1.7,-1.75];
const p6_tnl_lo = [-0.2,-0.35,-0.75,-1.1,-1.35,-1.4,-2.0,-2.2,-2.45,-2.6,-2.85,-3.0,-3.15,-3.2,-3.2];
const p6_tnl_hi = [0.0,-0.15,-0.5,-0.65,-0.75,-0.85,-1.2,-1.35,-1.6,-1.75,-1.9,-2.2,-2.3,-2.35,-2.35];

// ---------- styles ----------
const STY = {
  'arc':            {color:'#FFA500', point:'circle',   r:4.6, rot:0,   lw:4},
  'gp-baseline':    {color:'#008000', point:'rect',     r:6.2, rot:0,   lw:4},
  'independent':    {color:'#FF0000', point:'triangle', r:5.6, rot:180, lw:4},
  'marginal':       {color:'#00BFBF', point:'triangle', r:5.6, rot:270, lw:4},
  'random':         {color:'#0000FF', point:'triangle', r:5.6, rot:90,  lw:4},
  'smac':           {color:'#BF00BF', point:'circle',   r:4.6, rot:0,   lw:4},
  'tree':           {color:'#BFBF00', point:'rectRot',  r:6.2, rot:0,   lw:4},
  'tree-nonlinear': {color:'#000000', point:'cross',    r:3.0, rot:0,   lw:5}
};

const PANELS = [
  {id:'c1', title:'small unbalanced - no shared variables', iters:itersTop, knots:knotsTop, yMin:-5, yMax:1, yTicks:yTicksA,
   series:[['arc',p1_arc,p1_arc_lo,p1_arc_hi],['gp-baseline',p1_gp,p1_gp_lo,p1_gp_hi],['independent',p1_ind,p1_ind_lo,p1_ind_hi],
           ['marginal',p1_mar,p1_mar_lo,p1_mar_hi],['random',p1_ran,p1_ran_lo,p1_ran_hi],['smac',p1_smac,p1_smac_lo,p1_smac_hi],
           ['tree',p1_tree,p1_tree_lo,p1_tree_hi],['tree-nonlinear',p1_tnl,p1_tnl_lo,p1_tnl_hi]]},
  {id:'c2', title:'small unbalanced - linearly shared variables', iters:itersTop, knots:knotsTop, yMin:-4.2, yMax:1, yTicks:yTicksB,
   series:[['arc',p2_arc,p2_arc_lo,p2_arc_hi],['gp-baseline',p2_gp,p2_gp_lo,p2_gp_hi],['independent',p2_ind,p2_ind_lo,p2_ind_hi],
           ['random',p2_ran,p2_ran_lo,p2_ran_hi],['smac',p2_smac,p2_smac_lo,p2_smac_hi],
           ['tree',p2_tree,p2_tree_lo,p2_tree_hi],['tree-nonlinear',p2_tnl,p2_tnl_lo,p2_tnl_hi]]},
  {id:'c3', title:'small unbalanced - quad. shared variables', iters:itersTop, knots:knotsTop, yMin:-4.2, yMax:1, yTicks:yTicksB,
   series:[['arc',p3_arc,p3_arc_lo,p3_arc_hi],['gp-baseline',p3_gp,p3_gp_lo,p3_gp_hi],['independent',p3_ind,p3_ind_lo,p3_ind_hi],
           ['random',p3_ran,p3_ran_lo,p3_ran_hi],['smac',p3_smac,p3_smac_lo,p3_smac_hi],
           ['tree',p3_tree,p3_tree_lo,p3_tree_hi],['tree-nonlinear',p3_tnl,p3_tnl_lo,p3_tnl_hi]]},
  {id:'c4', title:'large unbalanced - no shared variables', iters:itersBot, knots:knotsBot, yMin:-5, yMax:1, yTicks:yTicksA,
   series:[['arc',p4_arc,p4_arc_lo,p4_arc_hi],['gp-baseline',p4_gp,p4_gp_lo,p4_gp_hi],['independent',p4_ind,p4_ind_lo,p4_ind_hi],
           ['marginal',p4_mar,p4_mar_lo,p4_mar_hi],['random',p4_ran,p4_ran_lo,p4_ran_hi],['smac',p4_smac,p4_smac_lo,p4_smac_hi],
           ['tree',p4_tree,p4_tree_lo,p4_tree_hi],['tree-nonlinear',p4_tnl,p4_tnl_lo,p4_tnl_hi]]},
  {id:'c5', title:'large unbalanced - linearly shared variables', iters:itersBot, knots:knotsBot, yMin:-4.2, yMax:1, yTicks:yTicksB,
   series:[['arc',p5_arc,p5_arc_lo,p5_arc_hi],['gp-baseline',p5_gp,p5_gp_lo,p5_gp_hi],['independent',p5_ind,p5_ind_lo,p5_ind_hi],
           ['random',p5_ran,p5_ran_lo,p5_ran_hi],['smac',p5_smac,p5_smac_lo,p5_smac_hi],
           ['tree',p5_tree,p5_tree_lo,p5_tree_hi],['tree-nonlinear',p5_tnl,p5_tnl_lo,p5_tnl_hi]]},
  {id:'c6', title:'large unbalanced - quad. shared variables', iters:itersBot, knots:knotsBot, yMin:-4.2, yMax:1, yTicks:yTicksB,
   series:[['arc',p6_arc,p6_arc_lo,p6_arc_hi],['gp-baseline',p6_gp,p6_gp_lo,p6_gp_hi],['independent',p6_ind,p6_ind_lo,p6_ind_hi],
           ['random',p6_ran,p6_ran_lo,p6_ran_hi],['smac',p6_smac,p6_smac_lo,p6_smac_hi],
           ['tree',p6_tree,p6_tree_lo,p6_tree_hi],['tree-nonlinear',p6_tnl,p6_tnl_lo,p6_tnl_hi]]}
];

const FONT = '"DejaVu Sans", "Liberation Sans", sans-serif';
function rgba(hex, a){
  const r = parseInt(hex.slice(1,3),16), g = parseInt(hex.slice(3,5),16), b = parseInt(hex.slice(5,7),16);
  return 'rgba('+r+','+g+','+b+','+a+')';
}
function fmtTick(v){ return v < 0 ? '\u2212' + Math.abs(v) : String(v); }

function marker(ctx, st, x, y){
  ctx.fillStyle = st.color; ctx.strokeStyle = '#000'; ctx.lineWidth = 1;
  if (window.Chart && Chart.helpers && Chart.helpers.drawPoint) {
    Chart.helpers.drawPoint(ctx, {pointStyle: st.point, radius: st.r, rotation: st.rot, borderWidth: 1}, x, y);
  } else {
    ctx.beginPath(); ctx.arc(x, y, st.r, 0, Math.PI*2); ctx.fill(); ctx.stroke();
  }
}

function decorPlugin(P){
  return {
    id: 'decor_' + P.id,
    afterDraw(chart){
      const ctx = chart.ctx, ca = chart.chartArea;
      const xs = chart.scales.x, ys = chart.scales.y;
      ctx.save();
      // inward ticks on all sides
      ctx.strokeStyle = '#000'; ctx.lineWidth = 1;
      ctx.beginPath();
      xTickVals.forEach(v => {
        const px = Math.round(xs.getPixelForValue(v)) + 0.5;
        ctx.moveTo(px, ca.bottom); ctx.lineTo(px, ca.bottom - 4);
        ctx.moveTo(px, ca.top); ctx.lineTo(px, ca.top + 4);
      });
      P.yTicks.forEach(v => {
        const py = Math.round(ys.getPixelForValue(v)) + 0.5;
        ctx.moveTo(ca.left, py); ctx.lineTo(ca.left + 4, py);
        ctx.moveTo(ca.right, py); ctx.lineTo(ca.right - 4, py);
      });
      ctx.stroke();
      // frame
      ctx.strokeRect(Math.round(ca.left)+0.5, Math.round(ca.top)+0.5, Math.round(ca.right-ca.left)-1, Math.round(ca.bottom-ca.top)-1);
      // title + axis labels
      ctx.fillStyle = '#000';
      ctx.textAlign = 'center'; ctx.textBaseline = 'alphabetic';
      ctx.font = '14px ' + FONT;
      ctx.fillText(P.title, (ca.left + ca.right)/2, ca.top - 2.5);
      ctx.font = '11.5px ' + FONT;
      ctx.fillText('Iterations', (ca.left + ca.right)/2, ca.bottom + 22.5);
      ctx.save();
      ctx.translate(16, (ca.top + ca.bottom)/2);
      ctx.rotate(-Math.PI/2);
      ctx.textBaseline = 'middle';
      ctx.fillText('log10(Distance to optimum)', 0, 0);
      ctx.restore();
      // legend
      ctx.font = '14px ' + FONT;
      const names = P.series.map(s => s[0]);
      let maxW = 0;
      names.forEach(n => { maxW = Math.max(maxW, ctx.measureText(n).width); });
      const w = 45.4 + maxW + 5.6;
      const h = 11 + (names.length - 1) * 20.6 + 13;
      const x0 = Math.round(ca.right - 7 - w), y0 = Math.round(ca.top + 7.7);
      ctx.fillStyle = '#fff';
      ctx.fillRect(x0, y0, Math.round(w), Math.round(h));
      ctx.strokeStyle = '#000'; ctx.lineWidth = 1;
      ctx.strokeRect(x0 + 0.5, y0 + 0.5, Math.round(w), Math.round(h));
      names.forEach((n, i) => {
        const st = STY[n];
        const cy = y0 + 11 + i * 20.6;
        ctx.strokeStyle = st.color; ctx.lineWidth = st.lw;
        ctx.beginPath(); ctx.moveTo(x0 + 9.4, cy); ctx.lineTo(x0 + 33.4, cy); ctx.stroke();
        marker(ctx, st, x0 + 9.4, cy);
        marker(ctx, st, x0 + 33.4, cy);
        ctx.fillStyle = '#000'; ctx.textAlign = 'left'; ctx.textBaseline = 'middle';
        ctx.fillText(n, x0 + 45.4, cy + 0.5);
      });
      ctx.restore();
    }
  };
}

PANELS.forEach(P => {
  const datasets = [];
  // uncertainty bands (drawn first, underneath)
  P.series.forEach(([name, vals, lo, hi], i) => {
    const st = STY[name];
    const bandA = name === 'tree-nonlinear' ? 0.09 : 0.11;
    datasets.push({
      label: name + ' band lo',
      data: P.knots.map((x, k) => ({x: x, y: lo[k]})),
      borderColor: 'rgba(0,0,0,0)', borderWidth: 1,
      backgroundColor: rgba(st.color, bandA),
      pointRadius: 0, fill: '+1', tension: 0, order: 200 - i
    });
    datasets.push({
      label: name + ' band hi',
      data: P.knots.map((x, k) => ({x: x, y: hi[k]})),
      borderColor: 'rgba(0,0,0,0)', borderWidth: 1,
      pointRadius: 0, fill: false, tension: 0, order: 200 - i
    });
  });
  // series lines with markers
  P.series.forEach(([name, vals], i) => {
    const st = STY[name];
    datasets.push({
      label: name,
      data: vals.map((v, k) => ({x: P.iters[k], y: v})),
      borderColor: st.color, borderWidth: st.lw,
      backgroundColor: st.color,
      pointStyle: st.point, pointRadius: st.r, pointRotation: st.rot,
      pointBackgroundColor: st.color, pointBorderColor: '#000', pointBorderWidth: 1,
      fill: false, tension: 0, order: 100 - i
    });
  });

  new Chart(document.getElementById(P.id), {
    type: 'line',
    data: { datasets },
    options: {
      responsive: false, animation: false, events: [],
      layout: { padding: { top: 19, right: 12, bottom: 0, left: 0 } },
      plugins: { legend: { display: false }, tooltip: { enabled: false }, title: { display: false } },
      scales: {
        x: {
          type: 'linear', min: 0, max: 70,
          afterFit: s => { s.height = 29; },
          afterBuildTicks: s => { s.ticks = xTickVals.map(v => ({value: v})); },
          grid: { color: 'rgba(0,0,0,0.6)', lineWidth: 0.8, drawTicks: false },
          border: { display: false, dash: [1, 2] },
          ticks: { font: { family: FONT, size: 10 }, color: '#000', padding: 2, maxRotation: 0, autoSkip: false, callback: v => String(v) }
        },
        y: {
          type: 'linear', min: P.yMin, max: P.yMax,
          afterFit: s => { s.width = 43; },
          afterBuildTicks: s => { s.ticks = P.yTicks.map(v => ({value: v})); },
          grid: { color: 'rgba(0,0,0,0.6)', lineWidth: 0.8, drawTicks: false },
          border: { display: false, dash: [1, 2] },
          ticks: { font: { family: FONT, size: 10 }, color: '#000', padding: 3, autoSkip: false, callback: v => fmtTick(v) }
        }
      }
    },
    plugins: [decorPlugin(P)]
  });
});
</script>
</body></html>
